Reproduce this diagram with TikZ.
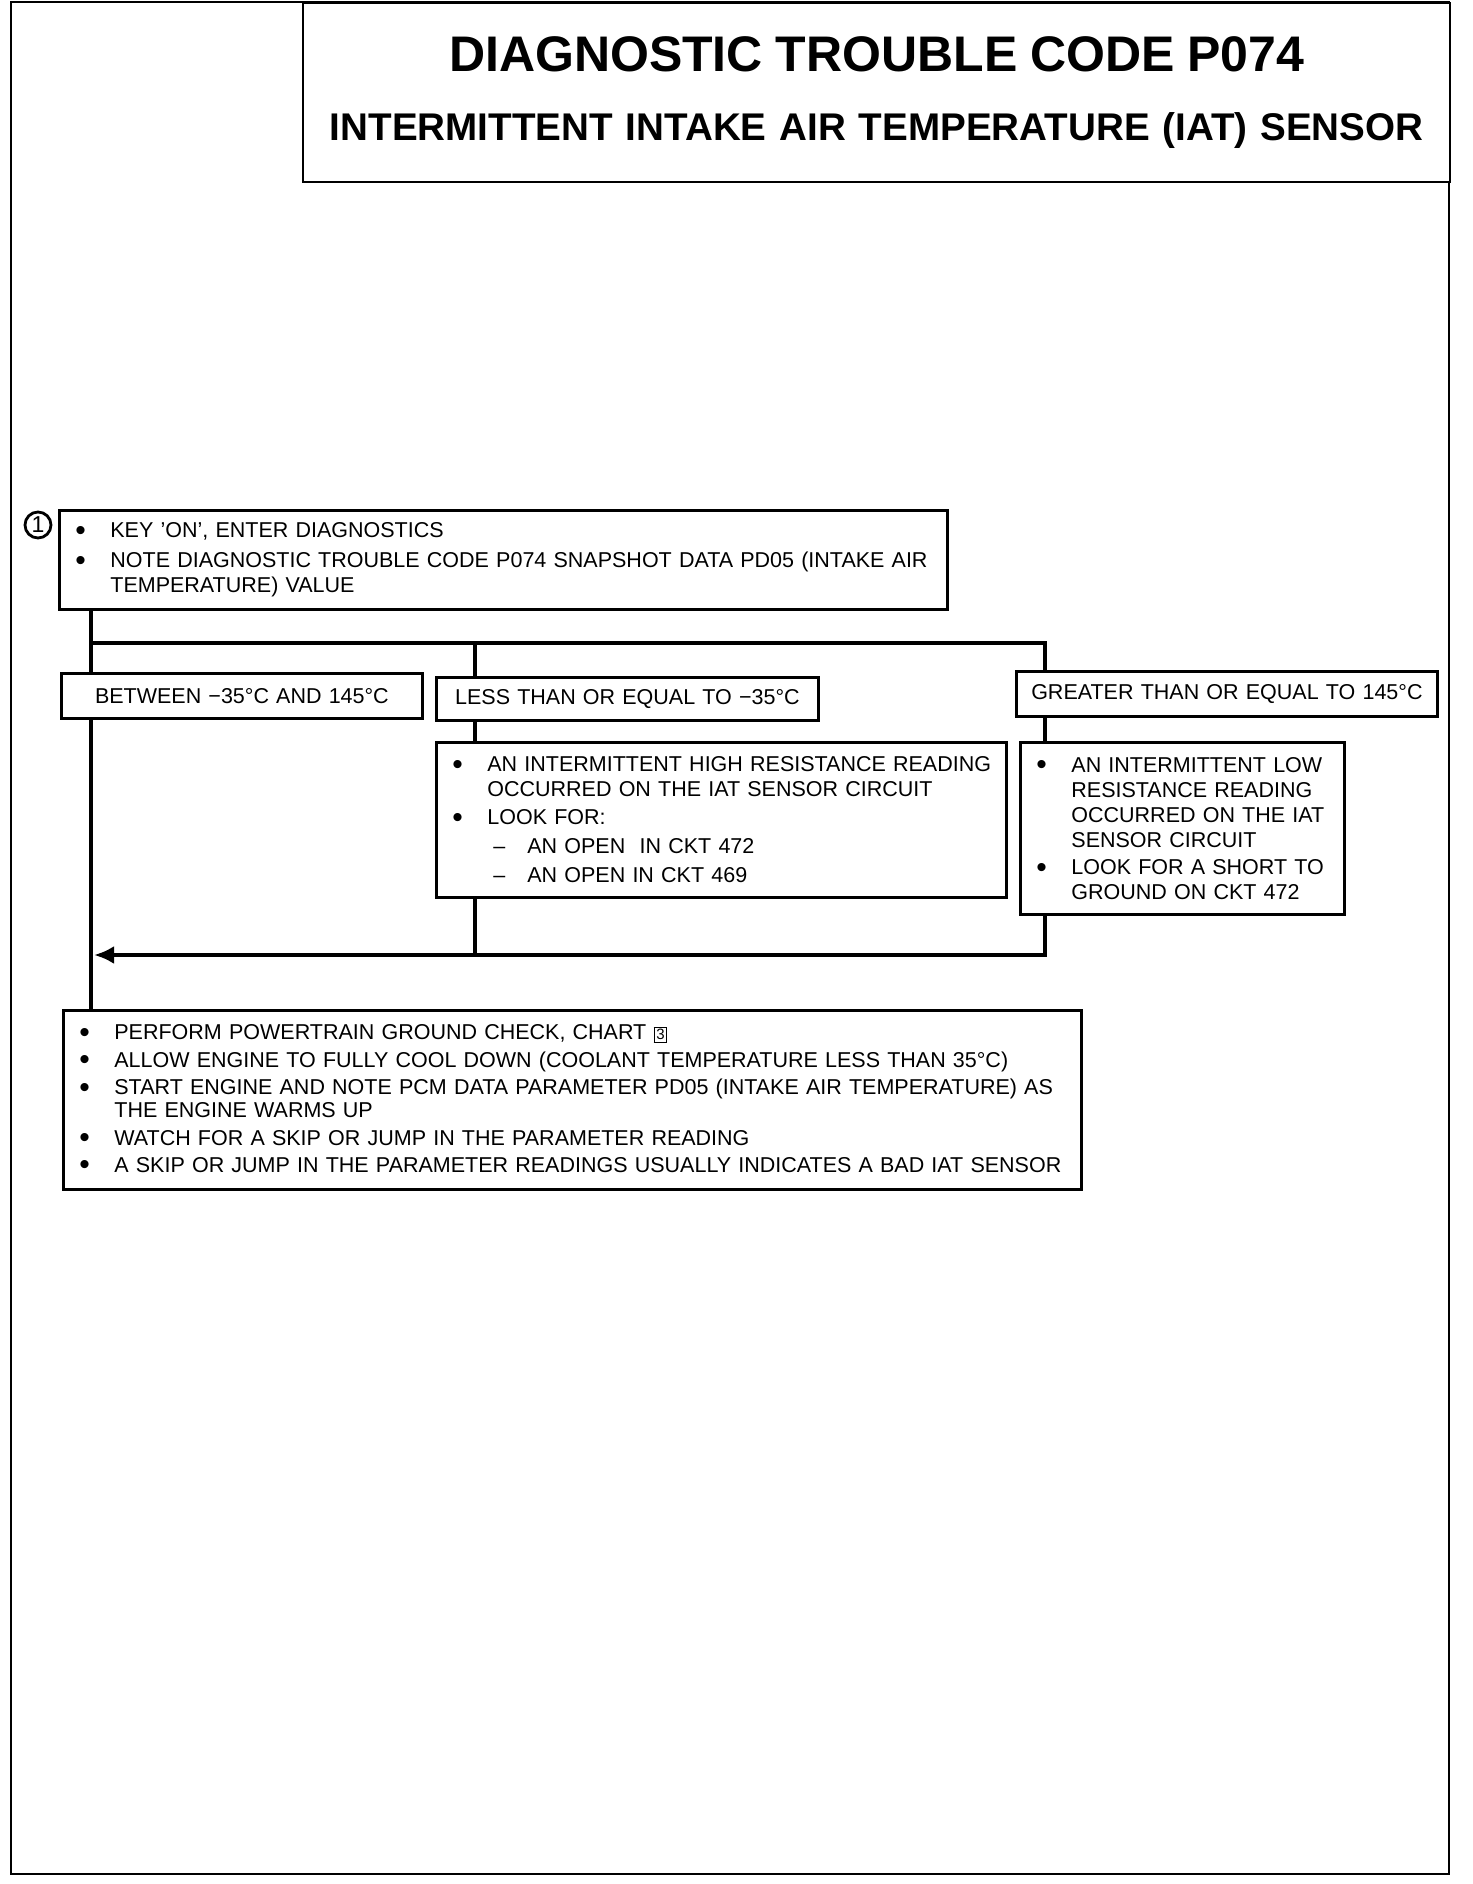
\documentclass[tikz,border=0pt]{standalone}
\usepackage{fontspec}
\setmainfont{Liberation Sans}
\usepackage{tikz}
\usetikzlibrary{arrows.meta, positioning, backgrounds}

\newlength{\bulw}
\setlength{\bulw}{17.5pt}
\newcommand{\bigdot}{\raisebox{-1.2pt}{\fontsize{15}{12}\selectfont\textbullet}}
\newcommand{\bitem}[1]{\mbox{\makebox[\bulw][l]{\bigdot}#1}}
\newcommand{\bcont}[1]{\mbox{\hspace*{\bulw}#1}}
\newcommand{\bsub}[1]{\mbox{\hspace*{\bulw}\hspace*{3pt}\makebox[17pt][l]{--}#1}}
\newcommand{\chartno}[1]{{\setlength{\fboxsep}{0.8pt}\setlength{\fboxrule}{0.6pt}\fbox{\fontsize{7.5}{7.5}\selectfont #1}}}

\tikzset{
  box/.style={
    rectangle, draw, fill=white, line width=1.4pt,
    anchor=north west, inner xsep=8pt, inner ysep=0pt,
    align=left, font=\fontsize{10.75}{12.5}\selectfont
  },
  cbox/.style={box, align=center, inner xsep=4pt},
  titlebox/.style={box, line width=1.2pt, inner xsep=4pt, align=center,
    font=\fontsize{19.3}{34.5}\selectfont\bfseries},
  num/.style={circle, draw, line width=1.4pt, minimum size=13pt,
    inner sep=0pt, font=\fontsize{11.5}{11.5}\selectfont},
  link/.style={line width=2.2pt},
  arrow/.style={-{Latex[length=10pt, width=9pt]}, line width=2.2pt},
  frame/.style={line width=1.2pt},
}

\begin{document}
\begin{tikzpicture}[x=0.5pt, y=-0.5pt]
  \useasboundingbox (0,0) rectangle (1472,1884);

  % Page frame
  \draw[frame] (11,2) rectangle (1449,1874);

  % Title
  \node[titlebox, text width=565.5pt, minimum height=89.5pt] (title) at (302,2) {
    {\fontsize{25}{34.5}\selectfont DIAGNOSTIC TROUBLE CODE P074}\\
    INTERMITTENT INTAKE AIR TEMPERATURE (IAT) SENSOR
  };

  % Step 1
  \node[num] (n1) at (38,525) {1};
  \node[box, text width=428pt, minimum height=49.5pt] (key) at (58,509) {
    \bitem{KEY 'ON', ENTER DIAGNOSTICS}\\[2.5pt]
    \bitem{NOTE DIAGNOSTIC TROUBLE CODE P074 SNAPSHOT DATA PD05 (INTAKE AIR}\\
    \bcont{TEMPERATURE) VALUE}
  };

  % Value ranges
  \node[cbox, text width=172.5pt, minimum height=22.5pt] (between) at (60,672) {
    BETWEEN −35°C AND 145°C
  };
  \node[cbox, text width=183pt, minimum height=21.5pt] (less) at (435,676) {
    LESS THAN OR EQUAL TO −35°C
  };
  \node[cbox, text width=202.5pt, minimum height=22.5pt] (greater) at (1015,670) {
    GREATER THAN OR EQUAL TO 145°C
  };

  % High resistance
  \node[box, text width=269pt, minimum height=77.5pt] (high) at (435,741) {
    \bitem{AN INTERMITTENT HIGH RESISTANCE READING}\\
    \bcont{OCCURRED ON THE IAT SENSOR CIRCUIT}\\[1.5pt]
    \bitem{LOOK FOR:}\\[2pt]
    \bsub{AN OPEN\ \ IN CKT 472}\\[2pt]
    \bsub{AN OPEN IN CKT 469}
  };

  % Low resistance
  \node[box, text width=146pt, minimum height=86pt] (low) at (1019,741) {
    \bitem{AN INTERMITTENT LOW}\\
    \bcont{RESISTANCE READING}\\
    \bcont{OCCURRED ON THE IAT}\\
    \bcont{SENSOR CIRCUIT}\\[1.3pt]
    \bitem{LOOK FOR A SHORT TO}\\
    \bcont{GROUND ON CKT 472}
  };

  % Final checks
  \node[box, text width=493pt, minimum height=89.5pt,
        font=\fontsize{10.75}{11.5}\selectfont] (final) at (62,1009) {
    \bitem{PERFORM POWERTRAIN GROUND CHECK, CHART \chartno{3}}\\[2.2pt]
    \bitem{ALLOW ENGINE TO FULLY COOL DOWN (COOLANT TEMPERATURE LESS THAN 35°C)}\\[2.2pt]
    \bitem{START ENGINE AND NOTE PCM DATA PARAMETER PD05 (INTAKE AIR TEMPERATURE) AS}\\
    \bcont{THE ENGINE WARMS UP}\\[2.2pt]
    \bitem{WATCH FOR A SKIP OR JUMP IN THE PARAMETER READING}\\[2.2pt]
    \bitem{A SKIP OR JUMP IN THE PARAMETER READINGS USUALLY INDICATES A BAD IAT SENSOR}
  };

  % Connector lanes
  \coordinate (xt) at (91,0);
  \coordinate (xl) at (475,0);
  \coordinate (xg) at (1045,0);
  \coordinate (ybus) at (0,643);
  \coordinate (yret) at (0,955);

  \begin{scope}[on background layer]
    % Trunk
    \draw[link] (key.south -| xt) -- (final.north -| xt);
    % Branches
    \draw[link] (xt |- ybus) -- (xg |- ybus) -- (greater.north -| xg);
    \draw[link] (xl |- ybus) -- (less.north -| xl);
    \draw[link] (less.south -| xl) -- (high.north -| xl);
    \draw[link] (greater.south -| xg) -- (low.north -| xg);
    % Return
    \draw[link] (high.south -| xl) -- (xl |- yret);
    \draw[arrow, shorten >=1.5pt] (low.south -| xg) -- (xg |- yret) -- (xt |- yret);
  \end{scope}

\end{tikzpicture}
\end{document}
